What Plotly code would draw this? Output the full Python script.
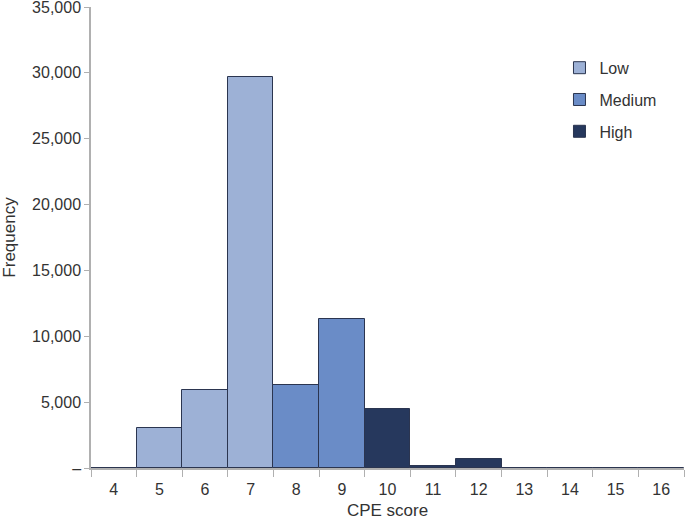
import plotly.graph_objects as go

categories = ["4", "5", "6", "7", "8", "9", "10", "11", "12", "13", "14", "15", "16"]
frequency = [20, 3050, 5900, 29650, 6300, 11300, 4500, 150, 700, 15, 10, 10, 10]
group = ["Low", "Low", "Low", "Low", "Medium", "Medium", "High", "High", "High", "High", "High", "High", "High"]
series_names = ["Low", "Medium", "High"]
colors = {"Low": "#9db1d6", "Medium": "#6a8cc7", "High": "#26385d"}

y_tickvals = [0, 5000, 10000, 15000, 20000, 25000, 30000, 35000]
y_ticktext = ["–", "5,000", "10,000", "15,000", "20,000", "25,000", "30,000", "35,000"]

fig = go.Figure()
for name in series_names:
    xs = [c for c, g in zip(categories, group) if g == name]
    ys = [v for v, g in zip(frequency, group) if g == name]
    fig.add_trace(go.Bar(
        x=xs, y=ys, name=name, legendgroup=name,
        marker=dict(color=colors[name], line=dict(color="#2b3550", width=1)),
    ))

font_family = "Liberation Sans, Arial, sans-serif"
fig.update_layout(
    width=685, height=520,
    margin=dict(l=91, r=1, t=7, b=52, autoexpand=False),
    paper_bgcolor="white", plot_bgcolor="white",
    barmode="overlay", bargap=0,
    font=dict(family=font_family, size=16, color="#333333"),
    showlegend=True,
    legend=dict(x=0.79, y=0.905, xanchor="left", yanchor="top",
                font=dict(size=16, color="#333333"),
                traceorder="grouped", tracegroupgap=8,
                bgcolor="rgba(0,0,0,0)", itemwidth=30),
    xaxis=dict(
        type="category", categoryorder="array", categoryarray=categories,
        tickson="boundaries", ticks="outside", ticklen=7, tickcolor="#b0b0b0",
        showline=True, linecolor="#b0b0b0", linewidth=1.5, showgrid=False,
        automargin=False, ticklabelstandoff=6,
        title=dict(text="CPE score", font=dict(size=17), standoff=8),
        tickfont=dict(size=16, color="#333333"),
    ),
    yaxis=dict(
        range=[0, 35000.5], tickvals=y_tickvals, ticktext=y_ticktext,
        ticks="outside", ticklen=5, tickcolor="#b0b0b0",
        showline=True, linecolor="#b0b0b0", linewidth=1.5, showgrid=False,
        zeroline=False, automargin=False, ticklabeloverflow="allow",
        title=dict(text="Frequency", font=dict(size=17), standoff=16),
        tickfont=dict(size=16, color="#333333"),
    ),
)

fig.write_html("out.html", config={"displayModeBar": False},
               post_script="document.body.style.margin='0';")
